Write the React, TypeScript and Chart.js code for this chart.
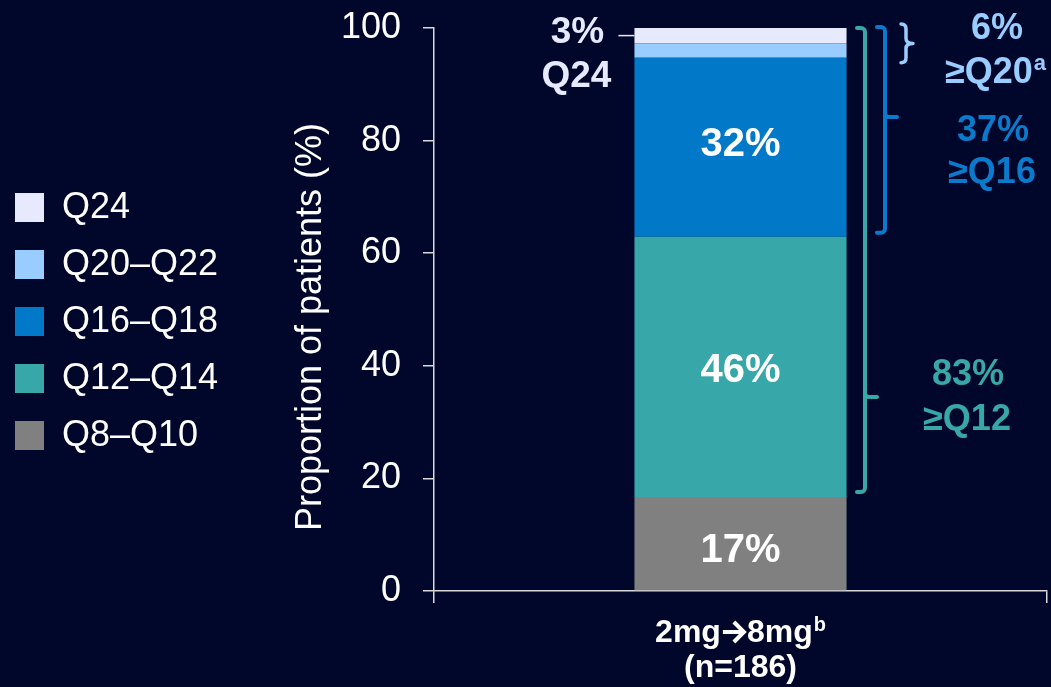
import React, { useEffect, useRef } from "react";
import { Chart, registerables } from "chart.js";

Chart.register(...registerables);

// ---------------- data ----------------
const categoriesPre = ["2mg"];
const categoriesPost = ["8mg"];
const categories = ["2mg→8mg"];
const categorySup = ["b"];
const categorySub = ["(n=186)"];

const seriesNames = ["Q8–Q10", "Q12–Q14", "Q16–Q18", "Q20–Q22", "Q24"];
const seriesValues = [16.7, 46.2, 31.8, 2.6, 2.7];
const seriesColors = ["#808080", "#37a7a9", "#0278c8", "#99ccff", "#e7e9fc"];

const yTicks = [0, 20, 40, 60, 80, 100];
const yTitle = "Proportion of patients (%)";

// cumulative groups shown with brackets (top-down)
const groupPct = ["6%", "37%", "83%"];
const groupNames = ["≥Q20", "≥Q16", "≥Q12"];
const groupSup = ["a", "", ""];
const groupFrom = [3, 2, 1]; // lowest series index included in group
const groupColors = ["#99ccff", "#0a7bcc", "#37a7a9"];

const BG = "#01072b";
const AXIS = "#d9d9d9";
const FONT = "'Liberation Sans', Arial, Helvetica, sans-serif";

function cumulative(upTo: number) {
  let s = 0;
  for (let i = 0; i < upTo; i++) s += seriesValues[i];
  return s;
}

function drawWithSup(
  ctx: CanvasRenderingContext2D,
  text: string,
  sup: string,
  cx: number,
  cy: number,
  font: string,
  supFont: string,
  rise: number
) {
  ctx.font = font;
  const w1 = ctx.measureText(text).width;
  ctx.font = supFont;
  const w2 = sup ? ctx.measureText(sup).width : 0;
  const start = cx - (w1 + w2) / 2;
  ctx.textAlign = "left";
  ctx.textBaseline = "middle";
  ctx.font = font;
  ctx.fillText(text, start, cy);
  if (sup) {
    ctx.font = supFont;
    ctx.fillText(sup, start + w1 + 1, cy - rise);
  }
}

const customPlugin = {
  id: "customDraw",
  beforeDraw(chart: any) {
    const ctx = chart.ctx;
    ctx.save();
    ctx.fillStyle = BG;
    ctx.fillRect(0, 0, chart.width, chart.height);
    ctx.restore();
  },
  afterDraw(chart: any) {
    const ctx: CanvasRenderingContext2D = chart.ctx;
    const ys = chart.scales.y;
    const xs = chart.scales.x;
    ctx.save();

    // legend (top = Q24)
    for (let i = 0; i < seriesNames.length; i++) {
      const si = seriesNames.length - 1 - i;
      const cy = 207.5 + i * 57;
      ctx.fillStyle = seriesColors[si];
      ctx.fillRect(15, cy - 14.5, 29, 29);
      ctx.fillStyle = "#ffffff";
      ctx.font = `36px ${FONT}`;
      ctx.textAlign = "left";
      ctx.textBaseline = "middle";
      ctx.fillText(seriesNames[si], 62, cy + 1);
    }

    // y title
    ctx.save();
    ctx.translate(321, 327);
    ctx.rotate(-Math.PI / 2);
    ctx.fillStyle = "#ffffff";
    ctx.font = `36px ${FONT}`;
    ctx.textAlign = "center";
    ctx.textBaseline = "alphabetic";
    ctx.fillText(yTitle, 0, 0);
    ctx.restore();

    // in-bar labels
    const labelNudge = [7, 4, -2];
    for (let si = 0; si < 3; si++) {
      const el = chart.getDatasetMeta(si).data[0];
      const cy = (el.y + el.base) / 2 + labelNudge[si];
      ctx.fillStyle = "#ffffff";
      ctx.font = `bold 40px ${FONT}`;
      ctx.textAlign = "center";
      ctx.textBaseline = "middle";
      ctx.fillText(Math.round(seriesValues[si]) + "%", el.x, cy);
    }

    // Q24 outside label with leader
    const top = chart.getDatasetMeta(4).data[0];
    const barLeft = top.x - top.width / 2;
    const topCy = (top.y + top.base) / 2;
    ctx.strokeStyle = "#e7e9fc";
    ctx.lineWidth = 1.5;
    ctx.beginPath();
    ctx.moveTo(barLeft - 16, topCy);
    ctx.lineTo(barLeft, topCy);
    ctx.stroke();
    ctx.fillStyle = "#e7e9fc";
    ctx.font = `bold 37px ${FONT}`;
    ctx.textAlign = "center";
    ctx.textBaseline = "middle";
    ctx.fillText(Math.round(seriesValues[4]) + "%", barLeft - 57, topCy - 3);
    ctx.fillText(seriesNames[4], barLeft - 58, topCy + 41);

    // brackets
    const yTop = ys.getPixelForValue(100);
    ctx.lineWidth = 4;
    ctx.lineCap = "round";
    ctx.lineJoin = "round";
    const bracket = (x: number, y1: number, y2: number, notchY: number, color: string) => {
      ctx.strokeStyle = color;
      ctx.beginPath();
      ctx.moveTo(x - 8, y1);
      ctx.arcTo(x, y1, x, y2, 4);
      ctx.arcTo(x, y2, x - 8, y2, 4);
      ctx.lineTo(x - 8, y2);
      ctx.stroke();
      ctx.beginPath();
      ctx.moveTo(x, notchY - 4);
      ctx.quadraticCurveTo(x, notchY, x + 5, notchY);
      ctx.lineTo(x + 12, notchY);
      ctx.stroke();
    };
    // teal >=Q12
    bracket(865, yTop, ys.getPixelForValue(cumulative(groupFrom[2])) - 5, 397, groupColors[2]);
    // blue >=Q16
    bracket(885, yTop - 1, ys.getPixelForValue(cumulative(groupFrom[1])) - 4, 117, groupColors[1]);
    // light brace >=Q20
    {
      const y1 = yTop - 4;
      const y2 = ys.getPixelForValue(cumulative(groupFrom[0])) + 5;
      const ym = (y1 + y2) / 2;
      const x0 = 901;
      const xv = 906;
      const xn = 913;
      ctx.strokeStyle = groupColors[0];
      ctx.lineWidth = 3.5;
      ctx.beginPath();
      ctx.moveTo(x0, y1);
      ctx.quadraticCurveTo(xv, y1, xv, y1 + 5);
      ctx.lineTo(xv, ym - 5);
      ctx.quadraticCurveTo(xv, ym, xn, ym);
      ctx.quadraticCurveTo(xv, ym, xv, ym + 5);
      ctx.lineTo(xv, y2 - 5);
      ctx.quadraticCurveTo(xv, y2, x0, y2);
      ctx.stroke();
    }

    // group labels
    const gPos = [
      [997, 29, 995, 73],
      [993, 131, 992, 173],
      [968, 375, 967, 420],
    ];
    for (let g = 0; g < 3; g++) {
      const [px, py, nx, ny] = gPos[g];
      ctx.fillStyle = groupColors[g];
      ctx.font = `bold 36px ${FONT}`;
      ctx.textAlign = "center";
      ctx.textBaseline = "middle";
      ctx.fillText(groupPct[g], px, py);
      drawWithSup(ctx, groupNames[g], groupSup[g], nx, ny, `bold 36px ${FONT}`, `bold 22px ${FONT}`, 9);
    }

    // x category labels (bold arrow drawn as a stroked glyph)
    for (let i = 0; i < categories.length; i++) {
      const cx = xs.getPixelForValue(i);
      const cy = 633;
      const mainFont = `bold 32px ${FONT}`;
      const supFont = `bold 20px ${FONT}`;
      ctx.font = mainFont;
      const wPre = ctx.measureText(categoriesPre[i]).width;
      const wPost = ctx.measureText(categoriesPost[i]).width;
      ctx.font = supFont;
      const wSup = ctx.measureText(categorySup[i]).width;
      const wArrow = 26;
      const total = wPre + wArrow + wPost + wSup + 1;
      let x0 = cx - total / 2;
      ctx.fillStyle = "#ffffff";
      ctx.textAlign = "left";
      ctx.textBaseline = "middle";
      ctx.font = mainFont;
      ctx.fillText(categoriesPre[i], x0, cy);
      x0 += wPre;
      // arrow
      const ay = cy - 1;
      ctx.strokeStyle = "#ffffff";
      ctx.lineWidth = 4;
      ctx.lineCap = "butt";
      ctx.lineJoin = "miter";
      ctx.beginPath();
      ctx.moveTo(x0 + 2, ay);
      ctx.lineTo(x0 + wArrow - 4, ay);
      ctx.stroke();
      ctx.beginPath();
      ctx.moveTo(x0 + wArrow - 13, ay - 10);
      ctx.lineTo(x0 + wArrow - 3, ay);
      ctx.lineTo(x0 + wArrow - 13, ay + 10);
      ctx.stroke();
      x0 += wArrow;
      ctx.font = mainFont;
      ctx.fillText(categoriesPost[i], x0, cy);
      x0 += wPost + 1;
      ctx.font = supFont;
      ctx.fillText(categorySup[i], x0, cy - 8);
      ctx.font = mainFont;
      ctx.textAlign = "center";
      ctx.fillText(categorySub[i], cx, 668);
    }

    ctx.restore();
  },
};

export default function App() {
  const canvasRef = useRef<HTMLCanvasElement | null>(null);

  useEffect(() => {
    if (!canvasRef.current) return;
    const chart = new Chart(canvasRef.current, {
      type: "bar",
      data: {
        labels: categories,
        datasets: seriesNames.map((name, i) => ({
          label: name,
          data: [seriesValues[i]],
          backgroundColor: seriesColors[i],
          borderWidth: 0,
          barPercentage: 0.346,
          categoryPercentage: 1,
        })),
      },
      options: {
        responsive: false,
        maintainAspectRatio: false,
        animation: false,
        devicePixelRatio: 1,
        layout: { padding: { left: 0, right: 4, top: 28, bottom: 84 } },
        plugins: {
          legend: { display: false },
          tooltip: { enabled: false },
          title: { display: false },
        },
        scales: {
          x: {
            stacked: true,
            offset: true,
            grid: {
              display: true,
              offset: true,
              drawOnChartArea: false,
              drawTicks: true,
              tickLength: 12,
              color: AXIS,
              lineWidth: 1.5,
            },
            border: { display: true, color: AXIS, width: 1.5 },
            ticks: { display: false },
          },
          y: {
            stacked: true,
            min: 0,
            max: 100,
            afterBuildTicks: (scale: any) => {
              scale.ticks = yTicks.map((v) => ({ value: v }));
            },
            afterFit: (scale: any) => {
              scale.width = 434;
              scale.paddingTop = 0;
              scale.paddingBottom = 0;
            },
            grid: {
              display: true,
              drawOnChartArea: false,
              drawTicks: true,
              tickLength: 11,
              color: AXIS,
              lineWidth: 1.5,
            },
            border: { display: true, color: AXIS, width: 1.5 },
            ticks: {
              color: "#ffffff",
              padding: 22,
              font: { family: FONT, size: 36 },
            },
            title: { display: false },
          },
        },
      },
      plugins: [customPlugin],
    });
    return () => chart.destroy();
  }, []);

  return (
    <div
      style={{
        position: "fixed",
        left: 0,
        top: 0,
        width: 1051,
        height: 687,
        background: BG,
        overflow: "hidden",
      }}
    >
      <canvas ref={canvasRef} width={1051} height={687} style={{ display: "block" }} />
    </div>
  );
}
